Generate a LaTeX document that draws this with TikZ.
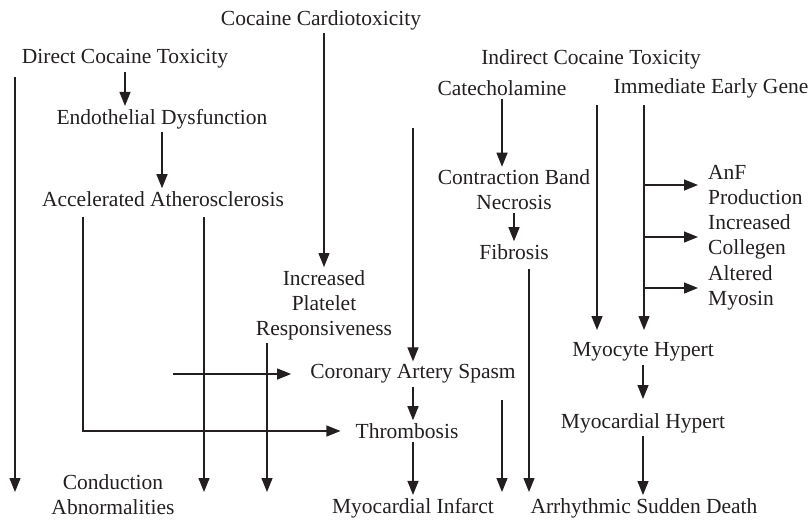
\documentclass[tikz,border=0pt]{standalone}
\usepackage{fontspec}
\setmainfont{Liberation Serif}
\usepackage{tikz}
\usetikzlibrary{arrows.meta, positioning}
\definecolor{inkgray}{HTML}{231F20}
\tikzstyle{arr}=[-{Triangle[length=14pt,width=11pt]},line width=1.2pt,color=inkgray]
\tikzstyle{lbl}=[font=\fontsize{21.5}{25}\selectfont,align=center,inner sep=3pt,text=inkgray]

\begin{document}
\begin{tikzpicture}[x=1pt,y=-1pt]
  \useasboundingbox (0,0) rectangle (811,520);
  \node[lbl] (cardio) at (321,20) {Cocaine Cardiotoxicity};
  \node[lbl] (direct) at (125,59) {Direct Cocaine Toxicity};
  \node[lbl] (endo) at (162,119) {Endothelial Dysfunction};
  \node[lbl] (accel) at (163,199) {Accelerated Atherosclerosis};
  \node[lbl] (indirect) at (591,59) {Indirect Cocaine Toxicity};
  \node[lbl] (catechol) at (502,88) {Catecholamine};
  \node[lbl] (ieg) at (711,88) {Immediate Early Gene};
  \node[lbl] (cbn) at (514,190) {Contraction Band\\Necrosis};
  \node[lbl] (fib) at (514,252) {Fibrosis};
  \node[lbl,anchor=west,align=left] (anf) at (705,185) {AnF\\Production};
  \node[lbl,anchor=west,align=left] (coll) at (705,237) {Increased\\Collegen};
  \node[lbl,anchor=west,align=left] (myo) at (705,288) {Altered\\Myosin};
  \node[lbl] (platelet) at (324,305) {Increased\\Platelet\\Responsiveness};
  \node[lbl] (cas) at (413,374) {Coronary Artery Spasm};
  \node[lbl] (thromb) at (407,431) {Thrombosis};
  \node[lbl] (cond) at (113,495) {Conduction\\Abnormalities};
  \node[lbl] (mi) at (413,508) {Myocardial Infarct};
  \node[lbl] (asd) at (644,508) {Arrhythmic Sudden Death};
  \node[lbl] (myoh) at (643,352) {Myocyte Hypert};
  \node[lbl] (mcdh) at (643,423) {Myocardial Hypert};

  \coordinate (base) at (0,492);
  \coordinate (dirleft) at (15,77);
  \coordinate (accA) at (83,217);
  \coordinate (accB) at (204,217);
  \coordinate (pltB) at (267,343);
  \coordinate (spin) at (173,374);
  \coordinate (spasmtop) at (413,128);
  \coordinate (midline) at (502,400);
  \coordinate (fibline) at (529,269);
  \coordinate (iegA) at (597,105);
  \coordinate (iegB) at (644,105);
  \coordinate (hyptop) at (0,330);

  \draw[arr] (dirleft) -- (dirleft |- base);
  \draw[arr] (direct.south) -- (direct.south |- endo.north);
  \draw[arr] (endo.south) -- (endo.south |- accel.north);
  \draw[arr] (cardio.south -| platelet.north) -- (platelet.north);
  \draw[arr] (accA) |- ([xshift=-12pt]thromb.west);
  \draw[arr] (accB) -- (accB |- base);
  \draw[arr] (spin) -- ([xshift=-16pt]cas.west);
  \draw[arr] (pltB) -- (pltB |- base);
  \draw[arr] (spasmtop) -- (cas.north);
  \draw[arr] (cas.south) -- (cas.south |- thromb.north);
  \draw[arr] (thromb.south -| mi.north) -- (mi.north);
  \draw[arr] (midline) -- (midline |- base);
  \draw[arr] (fibline) -- (fibline |- base);
  \draw[arr] (catechol.south) -- (catechol.south |- cbn.north);
  \draw[arr] (cbn.south) -- (cbn.south |- fib.north);
  \draw[arr] (iegA) -- (iegA |- hyptop);
  \draw[arr] (iegB) -- (iegB |- hyptop);
  \draw[arr] (anf.west -| iegB) -- ([xshift=-7pt]anf.west);
  \draw[arr] (coll.west -| iegB) -- ([xshift=-7pt]coll.west);
  \draw[arr] (myo.west -| iegB) -- ([xshift=-7pt]myo.west);
  \draw[arr] (myoh.south) -- ([yshift=11pt]mcdh.north);
  \draw[arr] (mcdh.south) -- (mcdh.south |- asd.north);
\end{tikzpicture}
\end{document}
